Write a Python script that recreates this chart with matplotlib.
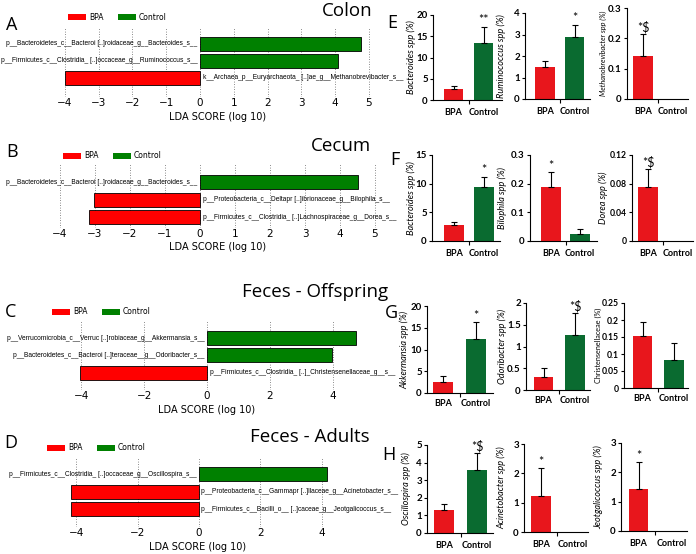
import matplotlib
matplotlib.use("Agg")
import matplotlib.pyplot as plt
from matplotlib.patches import Patch

W, H = 696, 554

# ---------------- LEfSe LDA data ----------------
groups = ["BPA", "Control"]

colon_features = ["p__Bacteroidetes_c__Bacteroi [..]roidaceae_g__Bacteroides_s__",
                  "p__Firmicutes_c__Clostridia_ [..]occaceae_g__Ruminococcus_s__",
                  "k__Archaea_p__Euryarchaeota_ [..]ae_g__Methanobrevibacter_s__"]
colon_lda = [4.75, 4.08, -4.0]

cecum_features = ["p__Bacteroidetes_c__Bacteroi [..]roidaceae_g__Bacteroides_s__",
                  "p__Proteobacteria_c__Deltapr [..]ibrionaceae_g__Bilophila_s__",
                  "p__Firmicutes_c__Clostridia_ [..]Lachnospiraceae_g__Dorea_s__"]
cecum_lda = [4.52, -3.03, -3.17]

offspring_features = ["p__Verrucomicrobia_c__Verruc [..]robiaceae_g__Akkermansia_s__",
                      "p__Bacteroidetes_c__Bacteroi [..]teraceae__g__Odoribacter_s__",
                      "p__Firmicutes_c__Clostridia_ [..]_Christensenellaceae_g__s__"]
offspring_lda = [4.75, 3.99, -4.05]

adults_features = ["p__Firmicutes_c__Clostridia_ [..]occaceae_g__Oscillospira_s__",
                   "p__Proteobacteria_c__Gammapr [..]llaceae_g__Acinetobacter_s__",
                   "p__Firmicutes_c__Bacilli_o__ [..]caceae_g__Jeotgalicoccus_s__"]
adults_lda = [4.17, -4.17, -4.18]

lda_titles = ["Colon", "Cecum", "Feces - Offspring", "Feces - Adults"]
lda_letters = ["A", "B", "C", "D"]
lda_ticks = [[-4, -3, -2, -1, 0, 1, 2, 3, 4, 5],
             [-4, -3, -2, -1, 0, 1, 2, 3, 4, 5],
             [-4, -2, 0, 2, 4],
             [-4, -2, 0, 2, 4]]

# ---------------- relative abundance bar data ----------------
E_labels = ["Bacteroides spp (%)", "Ruminococcus spp (%)", "Methanobrevibacter spp (%)"]
E_means = [[2.6, 13.4], [1.5, 2.9], [0.142, 0.0]]
E_errs = [[0.7, 3.8], [0.28, 0.55], [0.072, 0.0]]
E_marks = [["", "**"], ["", "*"], ["*$", ""]]
E_ticks = [["0", "5", "10", "15", "20"], ["0", "1", "2", "3", "4"], ["0", "0.1", "0.2", "0.3"]]

F_labels = ["Bacteroides spp (%)", "Bilophila spp (%)", "Dorea spp (%)"]
F_means = [[2.8, 9.4], [0.188, 0.024], [0.075, 0.0]]
F_errs = [[0.5, 1.8], [0.052, 0.018], [0.025, 0.0]]
F_marks = [["", "*"], ["*", ""], ["*$", ""]]
F_ticks = [["0", "5", "10", "15"], ["0", "0.1", "0.2", "0.3"], ["0", "0.04", "0.08", "0.12"]]

G_labels = ["Akkermansia spp (%)", "Odoribacter spp (%)", "Christensenellaceae (%)"]
G_means = [[2.5, 12.4], [0.3, 1.26], [0.153, 0.082]]
G_errs = [[1.4, 3.9], [0.2, 0.51], [0.041, 0.05]]
G_marks = [["", "*"], ["", "*$"], ["", ""]]
G_ticks = [["0", "5", "10", "15", "20"], ["0", "0.5", "1", "1.5", "2"],
           ["0", "0.05", "0.1", "0.15", "0.2", "0.25"]]

H_labels = ["Oscillospira spp (%)", "Acinetobacter spp (%)", "Jeotgalicoccus spp (%)"]
H_means = [[1.31, 3.58], [1.23, 0.0], [1.43, 0.0]]
H_errs = [[0.34, 0.97], [0.95, 0.0], [0.92, 0.0]]
H_marks = [["", "*$"], ["*", ""], ["*", ""]]
H_ticks = [["0", "1", "2", "3", "4", "5"], ["0", "1", "2", "3"], ["0", "1", "2", "3"]]

# ---------------- styling / layout ----------------
LDA_RED, LDA_GREEN = "#ff0000", "#008000"
BAR_RED, BAR_GREEN = "#e8161c", "#0a6b30"

fig = plt.figure(figsize=(W / 100, H / 100), dpi=100)


def fx(x):
    return x / W


def fy(y):
    return 1 - y / H


# LDA panel layout: zero px, px per unit, xlim, top px, bottom px, ylim
lda_layout = [
    (200, 33.8, (-4.3, 5.3), 28, 97, (3.12, -0.94)),
    (200, 35.0, (-4.3, 5.3), 163, 228, (2.6, -1.11)),
    (207, 31.4, (-4.4, 5.0), 320, 390, (3.0, -1.04)),
    (199, 30.7, (-4.5, 4.5), 458, 527, (3.0, -0.94)),
]
lda_legend_pos = [(68, 17), (63, 156), (52, 312), (47, 448)]
lda_xlabel_pos = [(218, 117), (218, 247), (207, 410), (198, 547)]
lda_title_pos = [(347, 11), (341, 146), (315, 292), (310, 437)]
lda_letter_pos = [(12, 25), (12, 152), (11, 312), (11, 443)]

lda_sets = [(colon_features, colon_lda), (cecum_features, cecum_lda),
            (offspring_features, offspring_lda), (adults_features, adults_lda)]

for i, (feats, vals) in enumerate(lda_sets):
    z, sc, xl, top, bot, yl = lda_layout[i]
    L = z + xl[0] * sc
    R = z + xl[1] * sc
    ax = fig.add_axes([fx(L), fy(bot), (R - L) / W, (bot - top) / H])
    ys = list(range(len(vals)))
    cols = [LDA_GREEN if v > 0 else LDA_RED for v in vals]
    ax.barh(ys, vals, height=0.8, color=cols, edgecolor="black", linewidth=0.6, zorder=3)
    for y, v, f in zip(ys, vals, feats):
        if v > 0:
            ax.text(-0.08, y, f, ha="right", va="center", fontsize=4.8,
                    family="Liberation Sans", zorder=4)
        else:
            ax.text(0.08, y, f, ha="left", va="center", fontsize=4.8,
                    family="Liberation Sans", zorder=4)
    ax.set_xlim(*xl)
    ax.set_ylim(*yl)
    ax.set_xticks(lda_ticks[i])
    ax.set_xticklabels([str(t).replace("-", "\u2212") for t in lda_ticks[i]])
    ax.set_yticks([])
    ax.tick_params(axis="x", length=0, pad=1, labelsize=7.5)
    for s in ax.spines.values():
        s.set_visible(False)
    ax.grid(axis="x", linestyle=(0, (1, 2)), color="#666666", linewidth=0.6, zorder=0)
    ax.patch.set_alpha(0)
    # legend
    lx, ly = lda_legend_pos[i]
    handles = [Patch(facecolor=LDA_RED, edgecolor="none"), Patch(facecolor=LDA_GREEN, edgecolor="none")]
    fig.legend(handles, groups, loc="center left", bbox_to_anchor=(fx(lx), fy(ly)),
               bbox_transform=fig.transFigure, ncol=2, frameon=False, fontsize=5.5,
               handlelength=2.4, handleheight=0.8, handletextpad=0.4, columnspacing=1.8,
               borderpad=0, borderaxespad=0)
    xx, yy = lda_xlabel_pos[i]
    fig.text(fx(xx), fy(yy), "LDA SCORE (log 10)", ha="center", va="center", fontsize=7)
    tx, ty = lda_title_pos[i]
    fig.text(fx(tx), fy(ty), lda_titles[i], ha="center", va="center", fontsize=13.5,
             family="Open Sans")
    ax_, ay_ = lda_letter_pos[i]
    fig.text(fx(ax_), fy(ay_), lda_letters[i], ha="center", va="center", fontsize=13,
             family="Open Sans")

# ---------------- right bar panels ----------------
# (axis px, right px, top px, zero px, BPA centre px, Control centre px)
bar_layout = {
    "E": [(433, 502, 15, 100, 453.5, 483.5), (525, 590, 13, 99, 545, 574.5), (627, 688, 8, 99, 643, 673)],
    "F": [(432, 500, 155, 241, 454, 484), (530, 597, 155, 241, 551, 580), (632, 693, 155, 241, 648, 678)],
    "G": [(427, 493, 306, 393, 443, 476), (526, 590, 303, 390, 543.5, 575), (624, 688, 303, 388, 642.5, 674)],
    "H": [(427, 493, 445, 533, 444, 477), (524, 588, 444, 532, 541, 573), (621, 687, 443, 531, 638.5, 672)],
}
ylabel_x = {"E": [411, 501, 603], "F": [411, 502, 603], "G": [405, 502, 598], "H": [406, 502, 598]}
letter_pos = {"E": (392, 23), "F": (395, 160), "G": (391, 313), "H": (389, 455)}
cat_pad = {"E": 6.0, "F": 5.5, "G": 4.5, "H": 5.5}

rows = {"E": (E_labels, E_means, E_errs, E_marks, E_ticks),
        "F": (F_labels, F_means, F_errs, F_marks, F_ticks),
        "G": (G_labels, G_means, G_errs, G_marks, G_ticks),
        "H": (H_labels, H_means, H_errs, H_marks, H_ticks)}

RFONT = "Lato"
for key, (labels, means, errs, marks, ticks) in rows.items():
    for j in range(3):
        L, R, T, B, c0, c1 = bar_layout[key][j]
        s = c1 - c0
        ax = fig.add_axes([fx(L), fy(B), (R - L) / W, (B - T) / H])
        xs = [0, 1]
        ax.bar(xs, means[j], width=19.5 / s, color=[BAR_RED, BAR_GREEN], zorder=2)
        for xi, m, e, mk in zip(xs, means[j], errs[j], marks[j]):
            if e > 0:
                ax.errorbar(xi, m, yerr=[[0], [e]], fmt="none", ecolor="black",
                            elinewidth=0.8, capsize=2.5, capthick=0.8, zorder=3)
            if mk:
                ax.annotate(mk.replace("$", r"\$"), (xi, m + e), xytext=(0, 0.3),
                            textcoords="offset points", ha="center", va="bottom",
                            fontsize=9, family=RFONT, annotation_clip=False)
        tv = [float(t) for t in ticks[j]]
        maxlen = max(len(t) for t in ticks[j])
        ax.set_ylim(0, tv[-1])
        ax.set_yticks(tv)
        ax.set_yticklabels(ticks[j], fontsize=6.2 if maxlen >= 4 else 7,
                           fontweight="bold", family=RFONT)
        ax.set_xlim((L - c0) / s, (R - c0) / s)
        ax.set_xticks(xs)
        ax.set_xticklabels(groups, fontsize=6.5, fontweight="bold", family=RFONT)
        ax.set_xticks([0.5], minor=True)
        ax.tick_params(axis="x", which="major", length=0, pad=cat_pad[key])
        ax.tick_params(axis="x", which="minor", length=3, direction="out", width=0.8)
        ax.tick_params(axis="y", length=2.5, width=0.8, pad=1.2)
        for sp in ["top", "right"]:
            ax.spines[sp].set_visible(False)
        for sp in ["left", "bottom"]:
            ax.spines[sp].set_linewidth(0.8)
        ax.patch.set_alpha(0)
        italic = "spp" in labels[j]
        if len(labels[j]) > 22:
            fsz = 5.2
        else:
            fsz = 6.6
        fig.text(fx(ylabel_x[key][j]), fy((T + B) / 2), labels[j], rotation=90,
                 ha="center", va="center", fontsize=fsz, family=RFONT,
                 style="italic" if italic else "normal")
    lx, ly = letter_pos[key]
    fig.text(fx(lx), fy(ly), key, ha="center", va="center", fontsize=13, family="Open Sans")

fig.savefig("out.png", dpi=100)
